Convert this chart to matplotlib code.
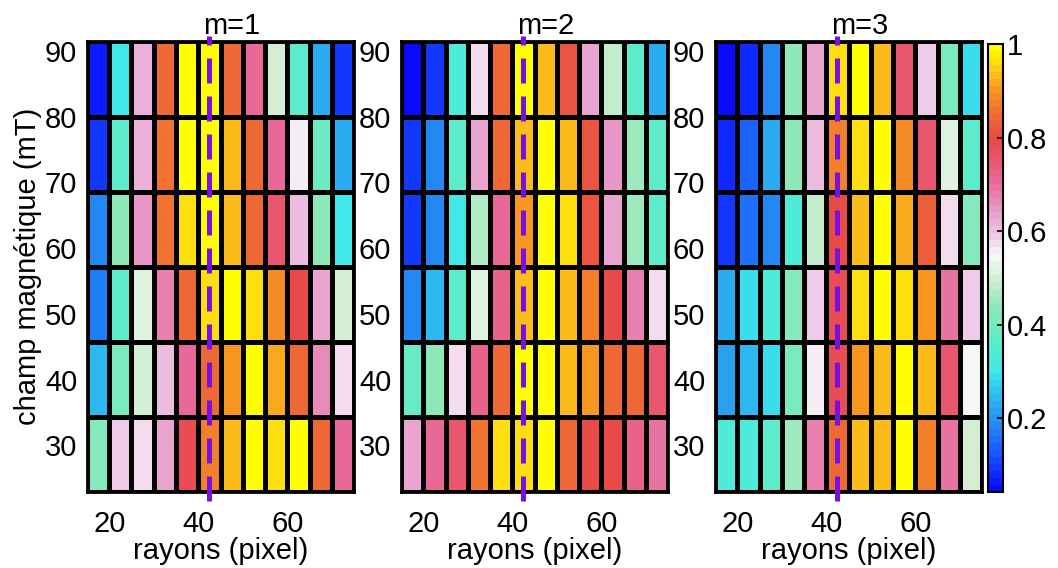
import numpy as np
import matplotlib
matplotlib.use('Agg')
import matplotlib.pyplot as plt
from matplotlib.colors import LinearSegmentedColormap

plt.rcParams['font.family'] = ['Liberation Sans', 'DejaVu Sans']

# bords des cellules
rayons = [15, 20, 25, 30, 35, 40, 45, 50, 55, 60, 65, 70, 75]
champ = [22.9, 34.3, 45.7, 57.2, 68.6, 80.0, 91.5]
rayon_ref = 42.5

# valeurs normalisees, lignes du haut (90 mT) vers le bas (30 mT)
m1 = [
    [0.07, 0.30, 0.62, 0.84, 1.00, 1.00, 0.85, 0.71, 0.50, 0.36, 0.23, 0.10],
    [0.10, 0.37, 0.62, 0.86, 1.00, 1.00, 0.93, 0.84, 0.71, 0.56, 0.39, 0.23],
    [0.19, 0.44, 0.65, 0.86, 0.97, 1.00, 0.93, 0.85, 0.75, 0.60, 0.44, 0.30],
    [0.17, 0.37, 0.52, 0.68, 0.84, 0.96, 1.00, 0.97, 0.89, 0.80, 0.63, 0.50],
    [0.24, 0.41, 0.50, 0.60, 0.71, 0.84, 0.90, 1.00, 0.92, 0.84, 0.66, 0.57],
    [0.43, 0.59, 0.57, 0.63, 0.79, 0.88, 0.94, 1.00, 0.96, 1.00, 0.84, 0.71],
]
m2 = [
    [0.05, 0.10, 0.33, 0.57, 0.84, 1.00, 0.94, 0.82, 0.63, 0.48, 0.36, 0.23],
    [0.09, 0.19, 0.37, 0.63, 0.85, 0.94, 1.00, 0.94, 0.82, 0.65, 0.46, 0.36],
    [0.09, 0.19, 0.31, 0.47, 0.71, 0.90, 1.00, 0.97, 0.82, 0.63, 0.46, 0.36],
    [0.19, 0.25, 0.37, 0.52, 0.72, 0.93, 1.00, 0.93, 0.88, 0.80, 0.68, 0.57],
    [0.38, 0.44, 0.57, 0.72, 0.84, 1.00, 1.00, 0.94, 0.90, 0.85, 0.84, 0.75],
    [0.63, 0.71, 0.76, 0.86, 0.96, 0.97, 1.00, 0.84, 0.80, 0.80, 0.72, 0.70],
]
m3 = [
    [0.05, 0.08, 0.19, 0.44, 0.63, 0.96, 1.00, 0.93, 0.75, 0.59, 0.41, 0.29],
    [0.08, 0.14, 0.23, 0.44, 0.60, 0.87, 0.97, 1.00, 0.89, 0.75, 0.52, 0.36],
    [0.09, 0.16, 0.19, 0.33, 0.48, 0.80, 0.93, 1.00, 0.92, 0.83, 0.57, 0.43],
    [0.23, 0.29, 0.33, 0.43, 0.59, 0.78, 0.96, 1.00, 0.97, 0.90, 0.70, 0.59],
    [0.21, 0.24, 0.29, 0.41, 0.56, 0.78, 0.90, 0.93, 1.00, 0.94, 0.75, 0.54],
    [0.33, 0.33, 0.36, 0.46, 0.68, 0.84, 0.94, 0.94, 1.00, 0.87, 0.70, 0.50],
]
titres = ['m=1', 'm=2', 'm=3']

vmin, vmax = 0.043, 1.0
ancres = [
    (0.043, '#0a0aff'), (0.12, '#1858ff'), (0.20, '#2898f0'), (0.26, '#30c8f0'),
    (0.30, '#40e8e8'), (0.37, '#60ecc8'), (0.44, '#90e8b8'), (0.50, '#d5eed5'),
    (0.55, '#f8f8f8'), (0.60, '#ecc0e4'), (0.65, '#e898c8'), (0.71, '#e86898'),
    (0.80, '#e84848'), (0.86, '#f07030'), (0.91, '#f89820'), (0.95, '#fcc818'),
    (1.00, '#ffff00'),
]
cmap = LinearSegmentedColormap.from_list(
    'champ', [((v - vmin) / (vmax - vmin), c) for v, c in ancres], N=64)

fs = 21
fig = plt.figure(figsize=(10.58, 5.68), dpi=100)
lefts = [0.0822, 0.379, 0.6758]
width = 0.2525
bottom, height = 0.1338, 0.794

for i, (data, titre) in enumerate(zip([m1, m2, m3], titres)):
    ax = fig.add_axes([lefts[i], bottom, width, height])
    z = np.array(data)[::-1]
    mesh = ax.pcolormesh(rayons, champ, z, cmap=cmap, vmin=vmin, vmax=vmax,
                         edgecolors='k', linewidth=2.2)
    ax.axvline(rayon_ref, ymin=-0.02, ymax=1.012, color='#7a10e0', lw=3.6,
               linestyle=(0, (5, 2.6)), clip_on=False, zorder=5)
    ax.set_xlim(15, 75)
    ax.set_ylim(22.9, 91.5)
    ax.set_xticks([20, 40, 60])
    ax.set_yticks([30, 40, 50, 60, 70, 80, 90])
    ax.tick_params(direction='in', length=0, labelsize=fs)
    ax.tick_params(axis='x', pad=13)
    ax.tick_params(axis='y', pad=7)
    for s in ax.spines.values():
        s.set_linewidth(2)
    ax.set_xlabel('rayons (pixel)', fontsize=fs, labelpad=-1)
    ax.set_title(titre, fontsize=fs, x=0.54, pad=5)
    if i == 0:
        ax.set_ylabel('champ magnétique (mT)', fontsize=fs, labelpad=2)

cax = fig.add_axes([0.9338, 0.1338, 0.0142, 0.789])
cb = fig.colorbar(mesh, cax=cax, ticks=[0.2, 0.4, 0.6, 0.8, 1])
cb.ax.set_yticklabels(['0.2', '0.4', '0.6', '0.8', '1'])
cb.ax.tick_params(direction='in', length=4, width=1.2, labelsize=fs, pad=3)
cb.outline.set_linewidth(1.5)

plt.savefig('out.png', dpi=100)
